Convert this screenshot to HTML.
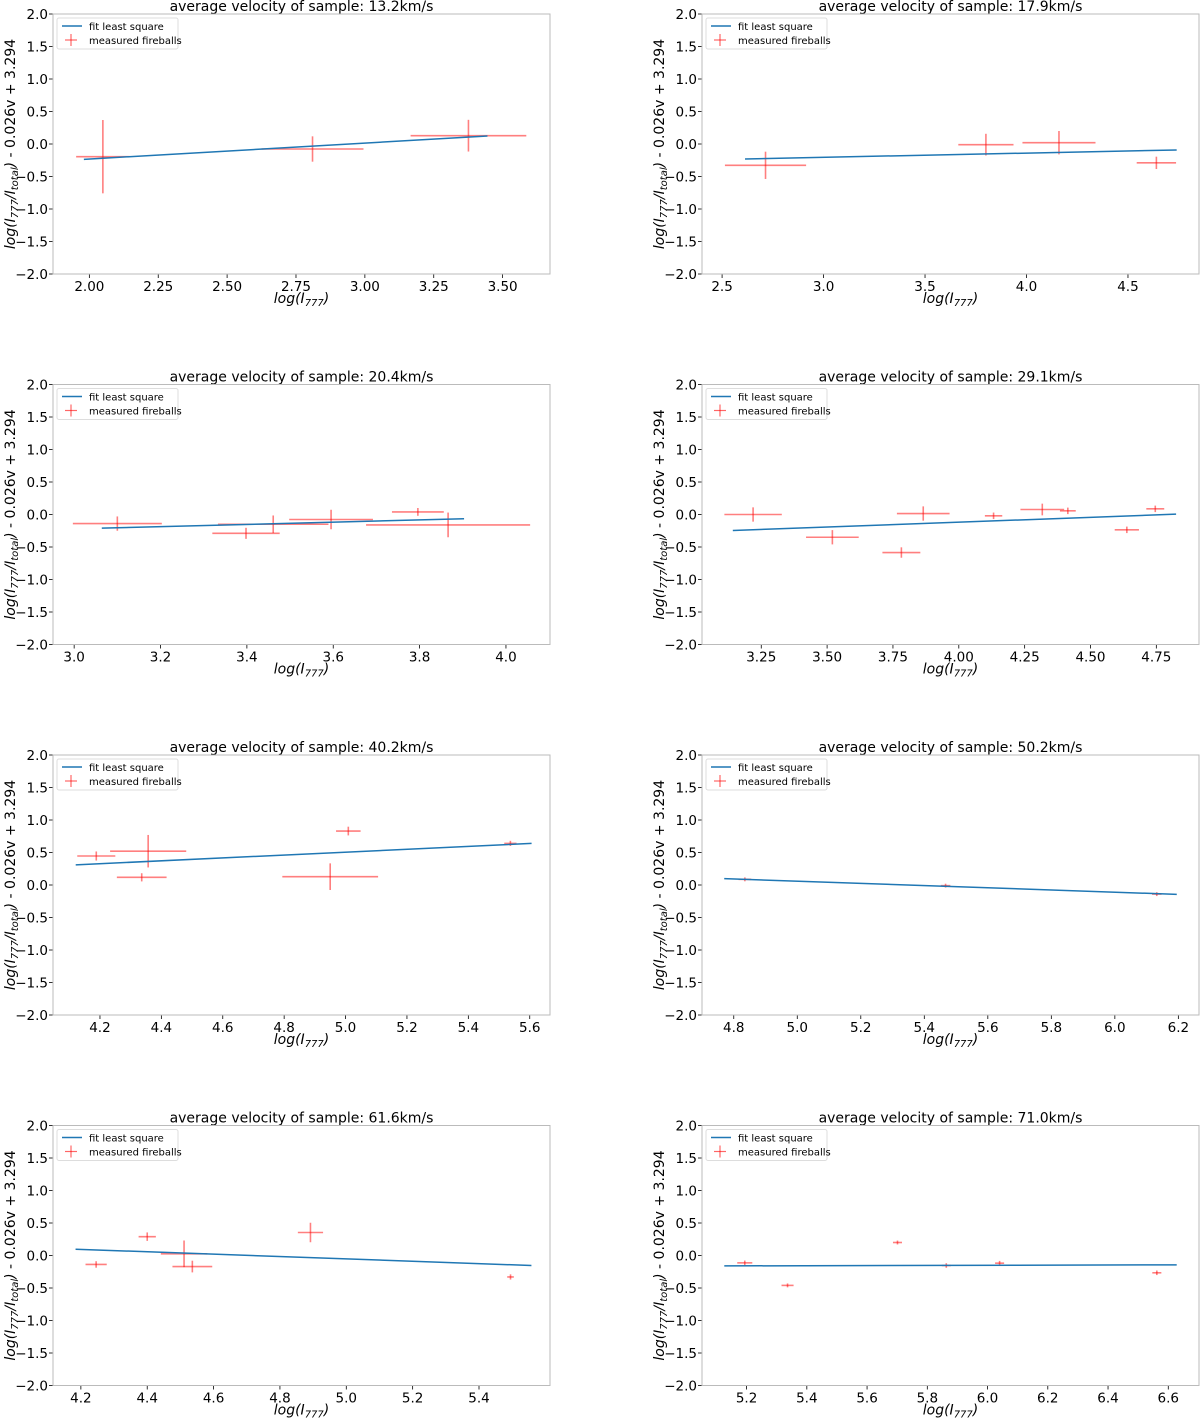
<!DOCTYPE html>
<html><head><meta charset="utf-8"><style>
body{margin:0;background:#fff}
svg{display:block;font-family:"DejaVu Sans","Liberation Sans",sans-serif}
</style></head><body>
<svg id="fig" width="1200" height="1418" viewBox="0 0 1200 1418"></svg>
<script>
// ---- data (per panel) ----
const titles = ["13.2","17.9","20.4","29.1","40.2","50.2","61.6","71.0"];
const xDomains = [[1.868,3.672],[2.401,4.85],[2.951,4.102],[3.025,4.912],[4.047,5.666],[4.70,6.265],[4.116,5.614],[5.052,6.702]];
const xTicks = [[2.00,2.25,2.50,2.75,3.00,3.25,3.50],[2.5,3.0,3.5,4.0,4.5],[3.0,3.2,3.4,3.6,3.8,4.0],[3.25,3.50,3.75,4.00,4.25,4.50,4.75],[4.2,4.4,4.6,4.8,5.0,5.2,5.4,5.6],[4.8,5.0,5.2,5.4,5.6,5.8,6.0,6.2],[4.2,4.4,4.6,4.8,5.0,5.2,5.4],[5.2,5.4,5.6,5.8,6.0,6.2,6.4,6.6]];
const xTickDecimals = [2,1,1,2,1,1,1,1];
const yTicks = [2.0,1.5,1.0,0.5,0.0,-0.5,-1.0,-1.5,-2.0];
const yTickLabels = ["2.0","1.5","1.0","0.5","0.0","\u22120.5","\u22121.0","\u22121.5","\u22122.0"];

const p1X=[2.049,2.81,3.376], p1Y=[-0.195,-0.077,0.128], p1Xe=[0.097,0.185,0.21], p1Ye=[0.564,0.195,0.244];
const p1Fit=[[1.98,-0.236],[3.445,0.123]];
const p2X=[2.714,3.80,4.16,4.64], p2Y=[-0.328,-0.01,0.02,-0.29], p2Xe=[0.2,0.136,0.18,0.097], p2Ye=[0.21,0.167,0.18,0.095];
const p2Fit=[[2.613,-0.23],[4.74,-0.092]];
const p3X=[3.10,3.398,3.461,3.595,3.796,3.866], p3Y=[-0.14,-0.29,-0.15,-0.077,0.04,-0.16], p3Xe=[0.103,0.078,0.128,0.097,0.06,0.19], p3Ye=[0.11,0.085,0.135,0.15,0.06,0.19];
const p3Fit=[[3.064,-0.21],[3.903,-0.066]];
const p4X=[3.219,3.52,3.782,3.865,4.132,4.317,4.414,4.638,4.746], p4Y=[0.0,-0.35,-0.585,0.015,-0.02,0.077,0.056,-0.236,0.087], p4Xe=[0.109,0.1,0.072,0.1,0.033,0.083,0.03,0.046,0.034], p4Ye=[0.11,0.11,0.08,0.11,0.05,0.09,0.05,0.05,0.05];
const p4Fit=[[3.142,-0.246],[4.825,0.005]];
const p5X=[4.188,4.357,4.336,4.95,5.009,5.537], p5Y=[0.446,0.52,0.118,0.128,0.83,0.64], p5Xe=[0.062,0.124,0.081,0.156,0.04,0.02], p5Ye=[0.07,0.25,0.063,0.205,0.067,0.04];
const p5Fit=[[4.121,0.31],[5.606,0.64]];
const p6X=[4.835,5.467,6.132], p6Y=[0.087,-0.01,-0.14], p6Xe=[0.02,0.015,0.015], p6Ye=[0.03,0.03,0.03];
const p6Fit=[[4.77,0.098],[6.195,-0.144]];
const p7X=[4.246,4.40,4.511,4.536,4.892,5.495], p7Y=[-0.138,0.29,0.026,-0.17,0.354,-0.33], p7Xe=[0.032,0.026,0.07,0.06,0.038,0.01], p7Ye=[0.05,0.065,0.205,0.09,0.15,0.04];
const p7Fit=[[4.184,0.097],[5.558,-0.154]];
const p8X=[5.194,5.336,5.701,5.863,6.04,6.562], p8Y=[-0.113,-0.46,0.2,-0.154,-0.118,-0.266], p8Xe=[0.025,0.02,0.015,0.015,0.015,0.015], p8Ye=[0.035,0.03,0.03,0.035,0.035,0.035];
const p8Fit=[[5.126,-0.16],[6.628,-0.144]];

const panelX=[p1X,p2X,p3X,p4X,p5X,p6X,p7X,p8X];
const panelY=[p1Y,p2Y,p3Y,p4Y,p5Y,p6Y,p7Y,p8Y];
const panelXe=[p1Xe,p2Xe,p3Xe,p4Xe,p5Xe,p6Xe,p7Xe,p8Xe];
const panelYe=[p1Ye,p2Ye,p3Ye,p4Ye,p5Ye,p6Ye,p7Ye,p8Ye];
const panelFit=[p1Fit,p2Fit,p3Fit,p4Fit,p5Fit,p6Fit,p7Fit,p8Fit];

const NS="http://www.w3.org/2000/svg";
const fig=document.getElementById('fig');
function mk(tag,attrs,parent){const e=document.createElementNS(NS,tag);for(const k in attrs)e.setAttribute(k,attrs[k]);(parent||fig).appendChild(e);return e;}

const colL=[53,550], colR=[702,1199];
const rowTops=[14,384.5,755,1125.5], plotH=260;

for(let i=0;i<8;i++){
  const col=i%2===0?colL:colR, top=rowTops[Math.floor(i/2)], bot=top+plotH;
  const [x0,x1]=xDomains[i];
  const sx=v=>col[0]+(v-x0)/(x1-x0)*(col[1]-col[0]);
  const sy=v=>top+(2-v)/4*plotH;
  const g=mk('g',{});
  
  
  const title=mk('text',{x:(col[0]+col[1])/2,y:top-3,'text-anchor':'middle','font-size':14,fill:'#000'},g);
  title.textContent='average velocity of sample: '+titles[i]+'km/s';
  
  
  yTicks.forEach((t,k)=>{
    const y=sy(t);
    mk('line',{x1:col[0]-4,x2:col[0],y1:y,y2:y,stroke:'#000','stroke-width':0.8},g);
    const tl=mk('text',{x:col[0]-5,y:y+5,'text-anchor':'end','font-size':13.5,fill:'#000'},g);
    tl.textContent=yTickLabels[k];
    
    
  });
  xTicks[i].forEach(t=>{
    const x=sx(t);
    mk('line',{x1:x,x2:x,y1:bot,y2:bot+4,stroke:'#000','stroke-width':0.8},g);
    const tl=mk('text',{x:x,y:bot+17,'text-anchor':'middle','font-size':13.5,fill:'#000'},g);
    tl.textContent=t.toFixed(xTickDecimals[i]);
    
    
  });
  const xl=mk('text',{x:(col[0]+col[1])/2,y:bot+29,'text-anchor':'middle','font-size':14,'font-style':'italic',fill:'#000'},g);
  xl.innerHTML='log(<tspan>I</tspan><tspan font-size="10" dy="3">777</tspan><tspan dy="-3">)</tspan>';
  
  
  const lx=col[0]-38, ly=top+plotH/2;
  const yl=mk('text',{x:lx,y:ly,'text-anchor':'middle','font-size':14,fill:'#000',transform:`rotate(-90 ${lx} ${ly})`},g);
  yl.innerHTML='<tspan font-style="italic">log(I</tspan><tspan font-style="italic" font-size="10" dy="3">777</tspan><tspan font-style="italic" dy="-3">/I</tspan><tspan font-style="italic" font-size="10" dy="3">total</tspan><tspan font-style="italic" dy="-3">)</tspan><tspan> - 0.026v + 3.294</tspan>';
  
  
  const xs=panelX[i],ys=panelY[i],xe=panelXe[i],ye=panelYe[i];
  for(let k=0;k<xs.length;k++){
    const e=mk('g',{stroke:'#ff0000','stroke-opacity':0.5,'stroke-width':1.6},g);
    
    
    mk('line',{x1:sx(xs[k]-xe[k]),x2:sx(xs[k]+xe[k]),y1:sy(ys[k]),y2:sy(ys[k])},e);
    mk('line',{x1:sx(xs[k]),x2:sx(xs[k]),y1:sy(ys[k]-ye[k]),y2:sy(ys[k]+ye[k])},e);
  }
  const f=panelFit[i];
  const fl=mk('line',{x1:sx(f[0][0]),y1:sy(f[0][1]),x2:sx(f[1][0]),y2:sy(f[1][1]),stroke:'#1f77b4','stroke-width':1.5},g);
  
  
  const fr=mk('rect',{x:col[0],y:top,width:col[1]-col[0],height:plotH,fill:'none',stroke:'#bbb','stroke-width':1},g);
  
  
  const lg=mk('g',{},g);
  
  
  mk('rect',{x:col[0]+4,y:top+4,width:121,height:31,rx:2,fill:'#fff',stroke:'#ddd','stroke-width':1},lg);
  mk('line',{x1:col[0]+9,x2:col[0]+29,y1:top+12,y2:top+12,stroke:'#1f77b4','stroke-width':1.5},lg);
  const t1=mk('text',{x:col[0]+36,y:top+16,'font-size':10,fill:'#000'},lg);
  t1.textContent='fit least square';
  
  
  mk('line',{x1:col[0]+12,x2:col[0]+24,y1:top+26,y2:top+26,stroke:'#ff0000','stroke-opacity':0.6,'stroke-width':1.2},lg);
  mk('line',{x1:col[0]+18,x2:col[0]+18,y1:top+20,y2:top+32,stroke:'#ff0000','stroke-opacity':0.6,'stroke-width':1.2},lg);
  const t2=mk('text',{x:col[0]+36,y:top+30,'font-size':10,fill:'#000'},lg);
  t2.textContent='measured fireballs';
  
  
}
</script>
</body></html>
